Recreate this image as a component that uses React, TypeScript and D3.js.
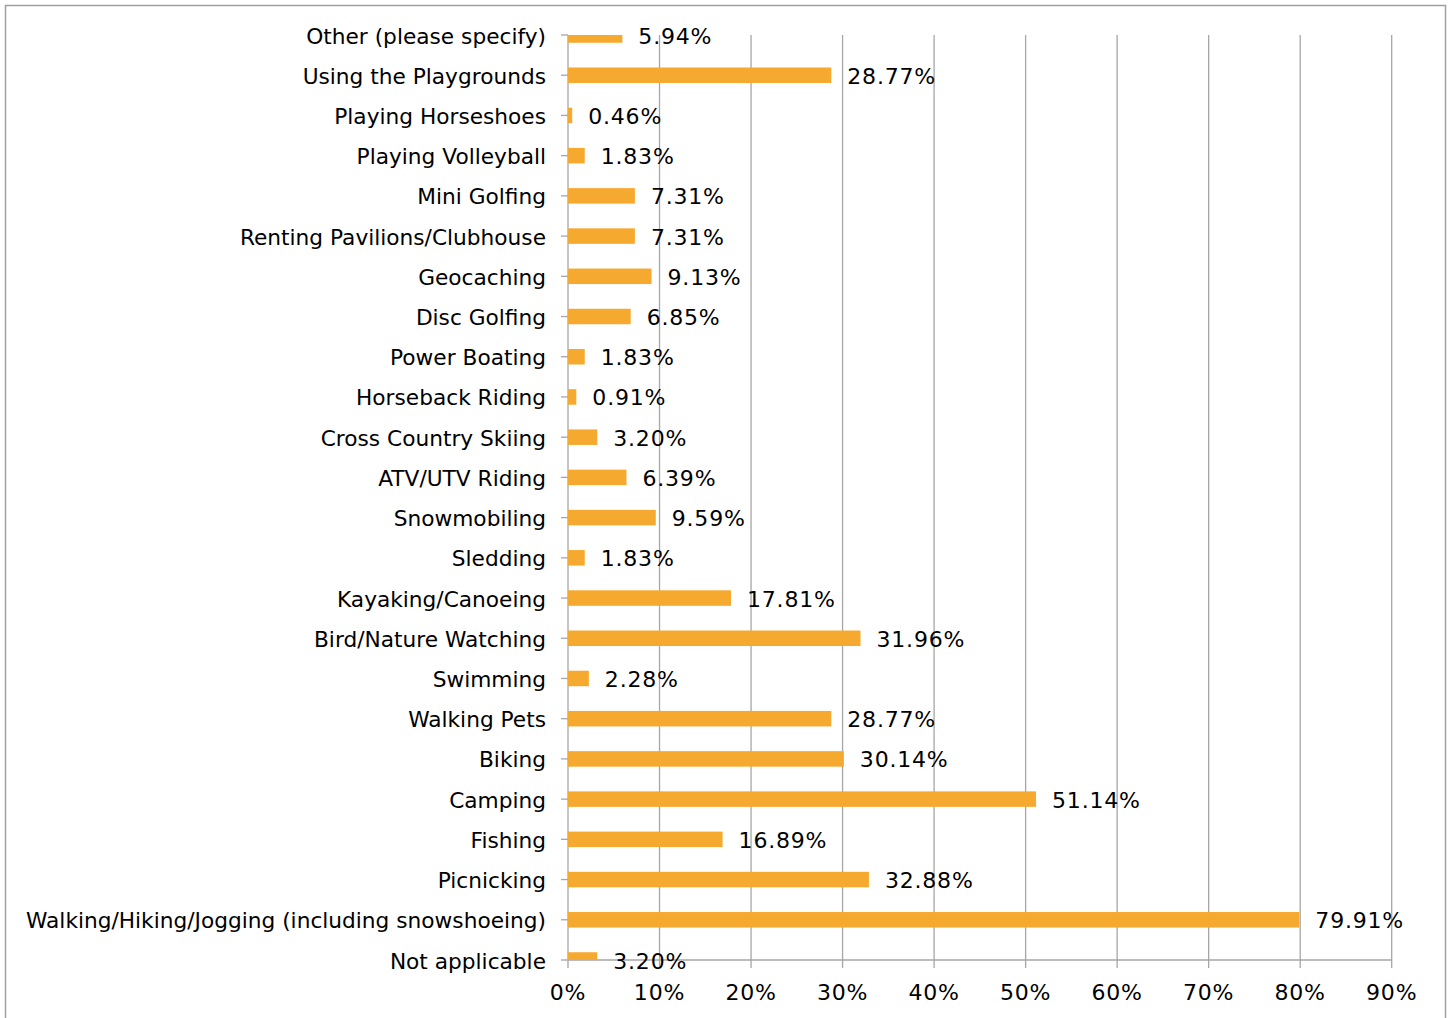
import React from "react";
import * as d3 from "d3";

const categories = [
  "Other (please specify)",
  "Using the Playgrounds",
  "Playing Horseshoes",
  "Playing Volleyball",
  "Mini Golfing",
  "Renting Pavilions/Clubhouse",
  "Geocaching",
  "Disc Golfing",
  "Power Boating",
  "Horseback Riding",
  "Cross Country Skiing",
  "ATV/UTV Riding",
  "Snowmobiling",
  "Sledding",
  "Kayaking/Canoeing",
  "Bird/Nature Watching",
  "Swimming",
  "Walking Pets",
  "Biking",
  "Camping",
  "Fishing",
  "Picnicking",
  "Walking/Hiking/Jogging (including snowshoeing)",
  "Not applicable",
];

const values = [
  5.94, 28.77, 0.46, 1.83, 7.31, 7.31, 9.13, 6.85, 1.83, 0.91, 3.2, 6.39, 9.59,
  1.83, 17.81, 31.96, 2.28, 28.77, 30.14, 51.14, 16.89, 32.88, 79.91, 3.2,
];

const xTicks = [0, 10, 20, 30, 40, 50, 60, 70, 80, 90];

const W = 1453;
const H = 1018;
const FONT = "'DejaVu Sans', sans-serif";

export default function App() {
  const left = 568;
  const right = 1391.7;
  const top = 35;
  const bottom = 960;
  const x = d3.scaleLinear().domain([0, 90]).range([left, right]);
  const y = d3
    .scalePoint<string>()
    .domain(categories)
    .range([top, bottom]);
  const barH = 15.5;
  const grid = "#a6a6a6";
  const bar = "#F6A92F";

  return (
    <svg
      width={W}
      height={H}
      style={{ position: "absolute", left: 0, top: 0, background: "#fff" }}
    >
      <defs>
        <clipPath id="plotclip">
          <rect x={left} y={top} width={right - left} height={bottom - top} />
        </clipPath>
      </defs>
      <rect x={5.5} y={5.5} width={1440} height={1030} fill="#fff" stroke="#a0a0a0" strokeWidth={1.5} />
      {xTicks.map((t) => (
        <line
          key={"g" + t}
          x1={x(t)}
          x2={x(t)}
          y1={top}
          y2={bottom + 8}
          stroke={grid}
          strokeWidth={1.3}
        />
      ))}
      {categories.map((c) => (
        <line key={"ct" + c} x1={left - 7} x2={left} y1={y(c)} y2={y(c)} stroke={grid} strokeWidth={1.3} />
      ))}
      <line x1={left} x2={right} y1={bottom} y2={bottom} stroke={grid} strokeWidth={1.3} />
      <g clipPath="url(#plotclip)">
        {categories.map((c, i) => (
          <rect
            key={"b" + c}
            x={x(0)}
            y={(y(c) as number) - barH / 2}
            width={x(values[i]) - x(0)}
            height={barH}
            fill={bar}
          />
        ))}
      </g>
      {categories.map((c) => (
        <text
          key={"l" + c}
          x={546}
          y={(y(c) as number) + 1}
          textAnchor="end"
          dominantBaseline="central"
          fontFamily={FONT}
          fontSize={21.7}
          fill="#000"
        >
          {c}
        </text>
      ))}
      {categories.map((c, i) => (
        <text
          key={"v" + c}
          x={x(values[i]) + 16}
          y={(y(c) as number) + 1}
          dominantBaseline="central"
          fontFamily={FONT}
          fontSize={22}
          letterSpacing={0.8}
          fill="#000"
        >
          {values[i].toFixed(2) + "%"}
        </text>
      ))}
      {xTicks.map((t) => (
        <text
          key={"xt" + t}
          x={x(t)}
          y={1000}
          textAnchor="middle"
          fontFamily={FONT}
          fontSize={22}
          letterSpacing={0.8}
          fill="#000"
        >
          {t + "%"}
        </text>
      ))}
    </svg>
  );
}
